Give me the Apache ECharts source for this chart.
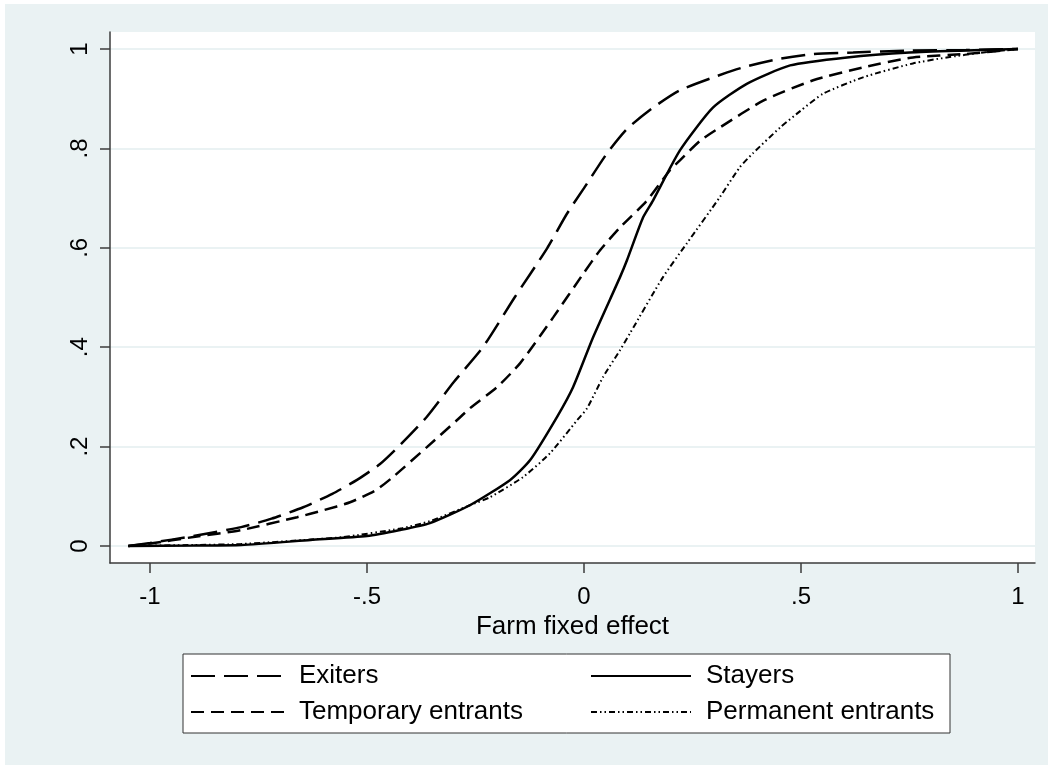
<!DOCTYPE html>
<html>
<head>
<meta charset="utf-8">
<script src="https://cdn.jsdelivr.net/npm/echarts@6/dist/echarts.min.js"></script>
<style>
  html, body { margin: 0; padding: 0; background: #ffffff; }
  #chart { position: absolute; left: 5px; top: 4px; width: 1043px; height: 761px; }
</style>
</head>
<body>
<div id="chart"></div>
<script>
// ---- data ----
const exitersX = [-1.05,-1.0,-0.9,-0.79,-0.72,-0.647,-0.58,-0.523,-0.47,-0.424,-0.362,-0.30,-0.233,-0.16,-0.085,-0.039,0,0.053,0.1,0.159,0.221,0.33,0.375,0.45,0.528,0.62,0.75,0.88,1.0];
const exitersY = [0,0.006,0.02,0.038,0.055,0.078,0.105,0.133,0.165,0.203,0.26,0.33,0.40,0.50,0.599,0.669,0.72,0.79,0.84,0.882,0.917,0.953,0.965,0.98,0.99,0.993,0.997,0.998,1.0];

const stayersX = [-1.05,-0.9,-0.79,-0.63,-0.5,-0.424,-0.355,-0.263,-0.17,-0.124,-0.062,-0.025,0.021,0.083,0.099,0.136,0.159,0.221,0.297,0.375,0.475,0.606,0.75,0.88,1.0];
const stayersY = [0,0.001,0.002,0.012,0.02,0.032,0.046,0.082,0.133,0.173,0.26,0.32,0.42,0.541,0.575,0.661,0.695,0.796,0.882,0.93,0.967,0.983,0.993,0.997,1.0];

const tempX = [-1.05,-1.0,-0.9,-0.79,-0.661,-0.6,-0.539,-0.48,-0.44,-0.362,-0.293,-0.263,-0.2,-0.147,-0.071,0,0.037,0.083,0.145,0.198,0.221,0.267,0.313,0.413,0.528,0.643,0.758,0.88,1.0];
const tempY = [0,0.005,0.018,0.032,0.058,0.072,0.088,0.112,0.139,0.199,0.253,0.277,0.32,0.368,0.46,0.55,0.595,0.641,0.695,0.756,0.776,0.815,0.842,0.896,0.937,0.963,0.983,0.99,1.0];

const permX = [-1.05,-0.9,-0.79,-0.63,-0.555,-0.424,-0.355,-0.263,-0.217,-0.14,-0.078,-0.016,0.007,0.044,0.083,0.106,0.182,0.237,0.313,0.359,0.389,0.452,0.498,0.551,0.643,0.758,0.836,0.92,1.0];
const permY = [0,0.002,0.004,0.013,0.018,0.035,0.05,0.082,0.098,0.139,0.187,0.253,0.277,0.34,0.394,0.428,0.541,0.609,0.702,0.762,0.79,0.842,0.875,0.91,0.943,0.971,0.983,0.993,1.0];

const seriesNames = ['Exiters', 'Stayers', 'Temporary entrants', 'Permanent entrants'];
const xTicks = [-1, -0.5, 0, 0.5, 1];
const yTicks = [0, 0.2, 0.4, 0.6, 0.8, 1];
const xTitle = 'Farm fixed effect';

const FONT = '"Liberation Sans", Arial, sans-serif';
const legendSize = 26;
const tickSize = 24;

function fmt(v) {
  if (Math.abs(v) < 1e-9) return '0';
  const s = String(Math.round(Math.abs(v) * 100) / 100).replace(/^0\./, '.');
  return (v < 0 ? '-' : '') + s;
}
function pairs(xs, ys) { return xs.map((x, i) => [x, ys[i]]); }

const BG = '#EAF2F3';
const AX = '#3c3c3c';
const hiddenSymbol = { color: 'rgba(0,0,0,0)', borderWidth: 0, opacity: 0 };

const chart = echarts.init(document.getElementById('chart'));
chart.setOption({
  backgroundColor: BG,
  animation: false,
  textStyle: { fontFamily: FONT },
  grid: { left: 105, top: 28, right: 13, bottom: 202, show: true, backgroundColor: '#ffffff', borderWidth: 0 },
  xAxis: {
    type: 'value', min: -1.0922, max: 1.0392,
    name: xTitle, nameLocation: 'middle', nameGap: 43,
    nameTextStyle: { color: '#000', fontSize: legendSize, fontFamily: FONT },
    axisLine: { onZero: false, lineStyle: { color: AX, width: 1.5 } },
    axisTick: { length: 10, customValues: xTicks, lineStyle: { color: AX, width: 1.5 } },
    axisLabel: { customValues: xTicks, formatter: fmt, margin: 22, color: '#000', fontSize: tickSize, fontFamily: FONT },
    splitLine: { show: false }
  },
  yAxis: {
    type: 'value', min: -0.0342, max: 1.0342,
    axisLine: { show: true, onZero: false, lineStyle: { color: AX, width: 1.5 } },
    axisTick: { show: true, length: 10, customValues: yTicks, lineStyle: { color: AX, width: 1.5 } },
    axisLabel: { customValues: yTicks, formatter: fmt, rotate: 90, margin: 18, color: '#000', fontSize: tickSize, fontFamily: FONT },
    splitLine: { show: true, lineStyle: { color: BG, width: 2 } }
  },
  legend: [
    {
      orient: 'vertical', left: 180, top: 654, itemWidth: 98, itemHeight: 20, itemGap: 10,
      data: ['Exiters', 'Temporary entrants'],
      itemStyle: hiddenSymbol,
      textStyle: { fontSize: legendSize, color: '#000', fontFamily: FONT, padding: [0, 0, 0, 5] }
    },
    {
      orient: 'vertical', left: 580, top: 654, itemWidth: 100, itemHeight: 20, itemGap: 10,
      data: ['Stayers', 'Permanent entrants'],
      itemStyle: hiddenSymbol,
      textStyle: { fontSize: legendSize, color: '#000', fontFamily: FONT, padding: [0, 0, 0, 10] }
    }
  ],
  graphic: [
    { type: 'rect', z: 0, shape: { x: 178, y: 650, width: 767, height: 79 },
      style: { fill: '#ffffff', stroke: '#333333', lineWidth: 1 } }
  ],
  series: [
    { name: seriesNames[0], type: 'line', symbol: 'none', smooth: 0.2, data: pairs(exitersX, exitersY),
      lineStyle: { color: '#000', width: 2.5, type: [24, 9] }, itemStyle: { color: '#000' } },
    { name: seriesNames[1], type: 'line', symbol: 'none', smooth: 0.2, data: pairs(stayersX, stayersY),
      lineStyle: { color: '#000', width: 2.5, type: 'solid' }, itemStyle: { color: '#000' } },
    { name: seriesNames[2], type: 'line', symbol: 'none', smooth: 0.2, data: pairs(tempX, tempY),
      lineStyle: { color: '#000', width: 2.5, type: [13, 7] }, itemStyle: { color: '#000' } },
    { name: seriesNames[3], type: 'line', symbol: 'none', smooth: 0.2, data: pairs(permX, permY),
      lineStyle: { color: '#000', width: 2, type: [6, 3, 1.5, 3, 1.5, 3] }, itemStyle: { color: '#000' } }
  ]
});
</script>
</body>
</html>
